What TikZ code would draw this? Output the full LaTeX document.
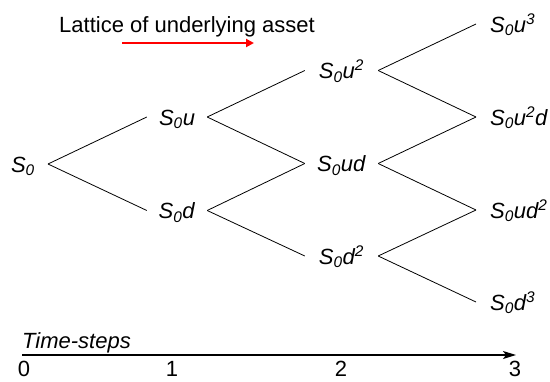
\documentclass[tikz,border=0pt]{standalone}
\usepackage{fontspec}
\setmainfont{Liberation Sans}
\usetikzlibrary{arrows.meta}
\begin{document}
\begin{tikzpicture}[x=1pt,y=-1pt,
  every node/.style={font=\fontsize{22}{26}\selectfont},
  lbl/.style={inner sep=0pt, text height=16pt, text depth=0pt},
  colone/.style={lbl, minimum width=60pt},
  coltwo/.style={lbl, minimum width=73pt},
  colthree/.style={lbl, anchor=west, inner xsep=14pt},
  branch/.style={line width=0.8pt, black}]
\fill[white] (0,0) rectangle (550,381);
\useasboundingbox (0,0) rectangle (550,381);
% nodes
\node[lbl, anchor=east, inner xsep=13pt] (s0) at (48,164) {\textit{S\textsubscript{0}}};
\node[colone] (u) at (177,117) {\textit{S\textsubscript{0}u}};
\node[colone] (d) at (177,210.5) {\textit{S\textsubscript{0}d}};
\node[coltwo] (uu) at (341.5,70.5) {\textit{S\textsubscript{0}u\textsuperscript{2}}};
\node[coltwo] (ud) at (341.5,163.5) {\textit{S\textsubscript{0}ud}};
\node[coltwo] (dd) at (341.5,256) {\textit{S\textsubscript{0}d\textsuperscript{2}}};
\node[colthree] (uuu) at (476,24) {\textit{S\textsubscript{0}u\textsuperscript{3}}};
\node[colthree] (uud) at (476,117) {\textit{S\textsubscript{0}u\textsuperscript{2}d}};
\node[colthree] (udd) at (476,210) {\textit{S\textsubscript{0}ud\textsuperscript{2}}};
\node[colthree] (ddd) at (476,302) {\textit{S\textsubscript{0}d\textsuperscript{3}}};
% branches
\draw[branch] (s0.east) -- (u.west);
\draw[branch] (s0.east) -- (d.west);
\draw[branch] (u.east) -- (uu.west);
\draw[branch] (u.east) -- (ud.west);
\draw[branch] (d.east) -- (ud.west);
\draw[branch] (d.east) -- (dd.west);
\draw[branch] (uu.east) -- (uuu.west);
\draw[branch] (uu.east) -- (uud.west);
\draw[branch] (ud.east) -- (uud.west);
\draw[branch] (ud.east) -- (udd.west);
\draw[branch] (dd.east) -- (udd.west);
\draw[branch] (dd.east) -- (ddd.west);
% title and red arrow
\node[lbl, anchor=west] (title) at (59,24) {Lattice of underlying asset};
\coordinate (ra) at (122,43);
\coordinate (rb) at (254,43);
\draw[red, line width=2pt, -{Triangle[length=8pt,width=8pt]}] (ra) -- (rb);
% time axis
\node[lbl, anchor=west] (ts) at (22,340.5) {\textit{Time-steps}};
\coordinate (ta) at (22,355);
\coordinate (tb) at (516,355);
\draw[line width=1.5pt, -{Stealth[length=13pt,width=8pt,inset=3pt]}] (ta) -- (tb);
\node[lbl] (t0) at (24,368) {0};
\node[lbl] (t1) at (172,368) {1};
\node[lbl] (t2) at (341,368) {2};
\node[lbl] (t3) at (515,368.5) {3};
\end{tikzpicture}
\end{document}
